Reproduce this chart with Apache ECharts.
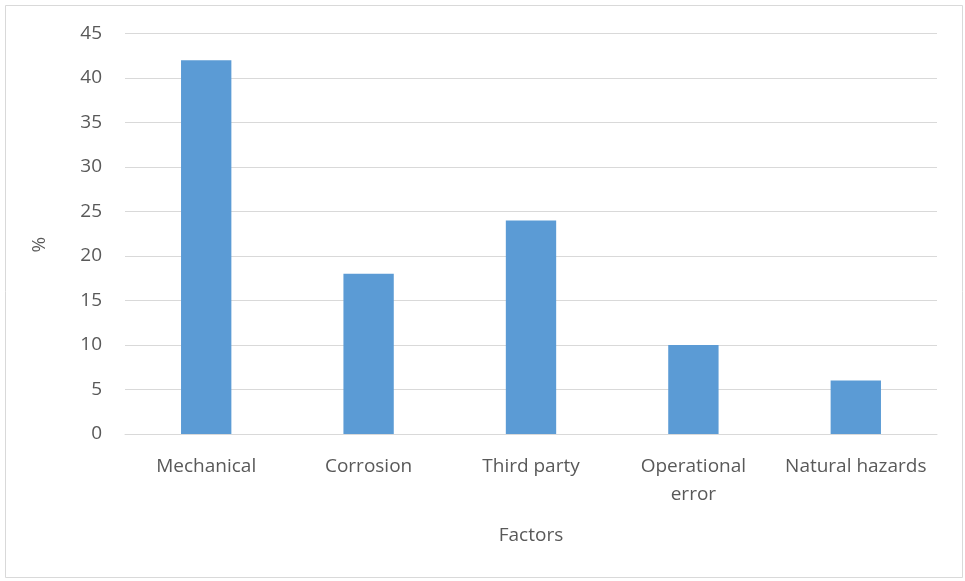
<!DOCTYPE html>
<html>
<head>
<meta charset="utf-8">
<script src="https://cdn.jsdelivr.net/npm/echarts@6/dist/echarts.min.js"></script>
<style>
  html, body { margin: 0; padding: 0; background: #fff; }
  #chart { width: 965px; height: 581px; }
</style>
</head>
<body>
<div id="chart"></div>
<script>
const categories = ['Mechanical', 'Corrosion', 'Third party', 'Operational error', 'Natural hazards']
const shares = [42, 18, 24, 10, 6]
const yTicks = { min: 0, max: 45, interval: 5 }

const textColor = '#595959'
const lineColor = '#d9d9d9'
const font = 'Open Sans'

const chart = echarts.init(document.getElementById('chart'))
chart.setOption({
  animation: false,
  backgroundColor: '#fff',
  graphic: [{
    type: 'rect',
    shape: { x: 5.5, y: 5.5, width: 957, height: 572 },
    style: { fill: 'none', stroke: lineColor, lineWidth: 1 }
  }],
  grid: { left: 125, right: 28, top: 33.5, bottom: 147 },
  xAxis: {
    type: 'category',
    data: categories,
    name: 'Factors',
    nameLocation: 'middle',
    nameGap: 92,
    nameTextStyle: { color: textColor, fontSize: 19, fontFamily: font },
    axisTick: { show: false },
    axisLine: { lineStyle: { color: lineColor, width: 1 } },
    axisLabel: {
      color: textColor,
      fontSize: 19,
      fontFamily: font,
      margin: 19,
      interval: 0,
      lineHeight: 28,
      formatter: v => v.length > 16 ? v.replace(' ', '\n') : v
    }
  },
  yAxis: {
    type: 'value',
    min: yTicks.min,
    max: yTicks.max,
    interval: yTicks.interval,
    name: '%',
    nameLocation: 'middle',
    nameGap: 76,
    nameRotate: 90,
    nameTextStyle: { color: textColor, fontSize: 19, fontFamily: font, padding: [0, 22, 0, 0] },
    axisLine: { show: false },
    axisTick: { show: false },
    splitLine: { lineStyle: { color: lineColor, width: 1 } },
    axisLabel: { color: textColor, fontSize: 19, fontFamily: font, margin: 23 }
  },
  series: [{
    type: 'bar',
    data: shares,
    barWidth: '31%',
    itemStyle: { color: '#5b9bd5' }
  }]
})
</script>
</body>
</html>
